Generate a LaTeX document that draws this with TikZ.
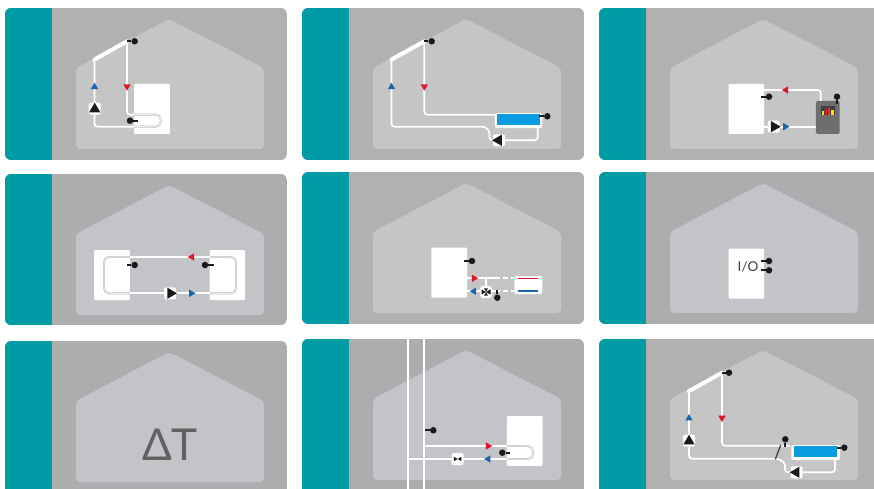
\documentclass[tikz,border=0pt]{standalone}
\usepackage{fontspec}
\setmainfont{Lato}
\usetikzlibrary{shapes.geometric}
\definecolor{Petrol}{RGB}{0,156,166}
\definecolor{GrisCalido}{RGB}{179,176,176}
\definecolor{GrisFrio}{RGB}{173,173,176}
\definecolor{CasaCalida}{RGB}{197,197,197}
\definecolor{CasaFria}{RGB}{194,196,200}
\definecolor{Rojo}{RGB}{222,24,44}
\definecolor{Azul}{RGB}{26,100,170}
\definecolor{Piscina}{RGB}{10,155,224}
\definecolor{Caldera}{RGB}{110,110,110}
\definecolor{Tinta}{RGB}{26,26,28}
\tikzset{
  collector/.style={draw=white, line width=4pt, line cap=round},
  pipe/.style={draw=white, line width=1.7pt, rounded corners=3pt},
  pipedash/.style={draw=white, line width=1.7pt, dash pattern=on 5pt off 3pt on 3pt off 9pt},
  coil/.style={draw=black!28, double=white, double distance=0.7pt, line width=0.6pt, rounded corners=5pt},
  tankbox/.style={fill=white, rounded corners=1pt, minimum width=35.6pt, minimum height=50pt, inner sep=0pt},
  poolbox/.style={fill=white, rounded corners=1.5pt, minimum width=#1, minimum height=15pt, inner sep=0pt},
  poolbox/.default=47.3pt,
  poolwater/.style={fill=Piscina, minimum width=#1, minimum height=11pt, inner sep=0pt},
  poolwater/.default=43pt,
  sensordot/.style={circle, fill=Tinta, minimum size=6.5pt, inner sep=0pt},
  sensorstem/.style={draw=Tinta, line width=1.9pt},
  pumpbox/.style={fill=white, rounded corners=2pt, minimum size=12pt, inner sep=0pt},
  pumptip/.style={regular polygon, regular polygon sides=3, fill=Tinta, minimum size=13pt,
    inner sep=0pt, shape border rotate=#1},
  flowtip/.style={regular polygon, regular polygon sides=3, fill=#1, minimum size=8.5pt, inner sep=0pt},
  valvetip/.style={regular polygon, regular polygon sides=3, fill=Tinta, minimum size=#1, inner sep=0pt},
  valvetip/.default=6pt,
}
\newcommand{\panelcasa}[6]{%
  \begin{scope}
    \path[clip, rounded corners=6pt] (#1,#2) rectangle ++(#3,#4);
    \fill[#5] (#1,#2) rectangle ++(#3,#4);
    \fill[Petrol] (#1,#2) rectangle ++(47,#4);
  \end{scope}
  \begin{scope}[shift={(#1,#2)}]
    \fill[#6, rounded corners=4pt] (71,60) -- (164,11) -- (259,60) -- (259,141) -- (71,141) -- cycle;
  \end{scope}}

\begin{document}
\begin{tikzpicture}[x=1pt, y=-1pt]
  \clip (0,0) rectangle (874,489);
  \panelcasa{5}{8}{282}{152}{GrisCalido}{CasaCalida}
  \panelcasa{302}{8}{282}{152}{GrisCalido}{CasaCalida}
  \panelcasa{599}{8}{290}{152}{GrisCalido}{CasaCalida}
  \panelcasa{5}{174}{282}{151}{GrisFrio}{CasaFria}
  \panelcasa{302}{172}{282}{152}{GrisCalido}{CasaCalida}
  \panelcasa{599}{172}{290}{152}{GrisFrio}{CasaFria}
  \panelcasa{5}{341}{282}{165}{GrisFrio}{CasaFria}
  \panelcasa{302}{339}{282}{165}{GrisFrio}{CasaFria}
  \panelcasa{599}{339}{290}{165}{GrisCalido}{CasaCalida}

  % ---- fila 1, solar con acumulador ----
  \node[tankbox] (t1) at (152,109) {};
  \coordinate (c1a) at (94.5,59.5);
  \coordinate (c1b) at (127,41.3);
  \coordinate (k1a) at (134,114.7);
  \coordinate (k1b) at (134,126.7);
  \draw[coil] (k1a) -- (160.7,114.7) -- (160.7,126.7) -- (k1b);
  \draw[pipe] (c1b) |- (k1a);
  \draw[pipe] (c1a) |- (k1b);
  \draw[collector] (c1a) -- (c1b);
  \node[sensordot] (s1a) at (134.7,41.3) {};
  \draw[sensorstem] (s1a) -- (c1b);
  \node[sensordot] (s1b) at (130,120.7) {};
  \coordinate (e1b) at (137.7,120.7);
  \draw[sensorstem] (s1b) -- (e1b);
  \node[flowtip=Azul] (f1a) at (94.5,87) {};
  \node[flowtip=Rojo, shape border rotate=180] (f1b) at (127,86.5) {};
  \node[pumpbox] (p1) at (94.7,108.7) {};
  \node[pumptip=0] (p1t) at (94.7,109.2) {};

  % ---- fila 1, solar con piscina ----
  \coordinate (c2a) at (391.5,59.5);
  \coordinate (c2b) at (424.3,41.3);
  \coordinate (k2a) at (495,114.7);
  \coordinate (k2b) at (537.7,128);
  \node[pumpbox] (p2) at (499,140.3) {};
  \draw[pipe] (c2b) |- (k2a);
  \draw[pipe] (c2a) |- (485,126.7) -- (489.5,131) -- (489.5,140.3) -- (p2);
  \draw[pipe] (p2) -| (k2b);
  \node[poolbox] (b2) at (518.6,120.7) {};
  \node[poolwater] (w2) at (518.8,119.8) {};
  \draw[collector] (c2a) -- (c2b);
  \node[sensordot] (s2a) at (431.7,41.3) {};
  \draw[sensorstem] (s2a) -- (c2b);
  \node[sensordot] (s2b) at (547.3,116.3) {};
  \coordinate (e2b) at (539.3,116.3);
  \draw[sensorstem] (s2b) -- (e2b);
  \node[flowtip=Azul] (f2a) at (391.5,87) {};
  \node[flowtip=Rojo, shape border rotate=180] (f2b) at (424.3,86.5) {};
  \node[pumptip=90] (p2t) at (498.5,140.3) {};

  % ---- fila 1, caldera ----
  \node[tankbox] (t3) at (746.3,109) {};
  \node[fill=Caldera, rounded corners=1.5pt, minimum width=23.7pt, minimum height=33pt, inner sep=0pt] (h3) at (827.8,117.5) {};
  \node[fill=black!75, minimum width=14.3pt, minimum height=9.3pt, inner sep=0pt] (l3) at (827.8,110.6) {};
  \fill[yellow!85!orange] (822,111) rectangle (824.2,115);
  \fill[Rojo] (825,109) rectangle (827.3,115);
  \fill[Rojo!70!orange] (828.1,107.6) rectangle (830.3,115);
  \fill[yellow!85!orange] (831,110) rectangle (833.6,115);
  \coordinate (k3a) at (820.7,101);
  \coordinate (k3b) at (764,90);
  \coordinate (k3c) at (764,126.7);
  \coordinate (k3d) at (816,126.7);
  \draw[pipe] (k3a) |- (k3b);
  \draw[pipe] (k3c) -- (k3d);
  \node[sensordot] (s3a) at (769,96.7) {};
  \coordinate (e3a) at (760.7,96.7);
  \draw[sensorstem] (s3a) -- (e3a);
  \node[sensordot] (s3b) at (837,96.7) {};
  \coordinate (e3b) at (837,104);
  \draw[sensorstem] (s3b) -- (e3b);
  \node[flowtip=Rojo, shape border rotate=90] (f3a) at (786,90) {};
  \node[flowtip=Azul, shape border rotate=-90] (f3b) at (785.3,126.7) {};
  \node[pumpbox] (p3) at (773.7,126.7) {};
  \node[pumptip=-90] (p3t) at (774.2,126.7) {};

  % ---- fila 2, dos acumuladores ----
  \node[tankbox] (t4) at (112,275) {};
  \node[tankbox] (u4) at (227.3,275) {};
  \coordinate (k4a) at (130,257);
  \coordinate (k4b) at (130,293.3);
  \coordinate (k4c) at (209.5,257);
  \coordinate (k4d) at (209.5,293.3);
  \draw[coil] (k4a) -- (104,257) -- (104,293.3) -- (k4b);
  \draw[coil] (k4c) -- (236,257) -- (236,293.3) -- (k4d);
  \draw[pipe] (k4a) -- (k4c);
  \draw[pipe] (k4b) -- (k4d);
  \node[sensordot] (s4a) at (134.7,265) {};
  \coordinate (e4a) at (126.7,265);
  \draw[sensorstem] (s4a) -- (e4a);
  \node[sensordot] (s4b) at (205,265) {};
  \coordinate (e4b) at (213.7,265);
  \draw[sensorstem] (s4b) -- (e4b);
  \node[flowtip=Rojo, shape border rotate=90] (f4a) at (192,257) {};
  \node[flowtip=Azul, shape border rotate=-90] (f4b) at (191.3,293.3) {};
  \node[pumpbox] (p4) at (170,293.3) {};
  \node[pumptip=-90] (p4t) at (170.5,293.3) {};

  % ---- fila 2, radiador con mezcladora ----
  \node[tankbox] (t5) at (449.2,272.7) {};
  \node[fill=white, rounded corners=1.5pt, minimum width=28pt, minimum height=18pt, inner sep=0pt] (r5) at (528.3,285) {};
  \coordinate (r5a) at (518.3,278.3);
  \coordinate (r5b) at (538.3,278.3);
  \coordinate (r5c) at (518.3,291);
  \coordinate (r5d) at (538.3,291);
  \draw[draw=Rojo, line width=1.4pt] (r5a) -- (r5b);
  \draw[draw=Azul, line width=1.4pt] (r5c) -- (r5d);
  \coordinate (k5a) at (467,278.3);
  \coordinate (k5b) at (500,278.3);
  \coordinate (k5c) at (503,278.3);
  \coordinate (k5d) at (514,278.3);
  \coordinate (k5e) at (467,291.3);
  \coordinate (k5f) at (500,291.3);
  \coordinate (k5g) at (503,291.3);
  \coordinate (k5h) at (514,291.3);
  \coordinate (k5j) at (486,278.3);
  \draw[pipe] (k5a) -- (k5b);
  \draw[pipedash] (k5c) -- (k5d);
  \draw[pipe] (k5e) -- (k5f);
  \draw[pipedash] (k5g) -- (k5h);
  \node[pumpbox, rounded corners=3pt] (v5) at (486,292) {};
  \draw[pipe] (k5j) -- (v5);
  \node[valvetip, shape border rotate=-90] (v5a) at (483,292) {};
  \node[valvetip, shape border rotate=90] (v5b) at (489,292) {};
  \node[valvetip=4.5pt, shape border rotate=180] (v5c) at (486,289.5) {};
  \node[valvetip=4.5pt] (v5d) at (486,294.5) {};
  \node[sensordot] (s5a) at (472,261) {};
  \coordinate (e5a) at (464,261);
  \draw[sensorstem] (s5a) -- (e5a);
  \node[sensordot] (s5b) at (497.3,297.7) {};
  \coordinate (e5b) at (497.3,290);
  \draw[sensorstem] (s5b) -- (e5b);
  \node[flowtip=Rojo, shape border rotate=-90] (f5a) at (474,278.3) {};
  \node[flowtip=Azul, shape border rotate=90] (f5b) at (474,291.3) {};

  % ---- fila 2, entradas y salidas ----
  \node[tankbox] (t6) at (746.3,273.7) {};
  \node[font=\fontsize{13.5}{14}\selectfont, text=black!75] (io6) at (748,267) {I/O};
  \node[sensordot] (s6a) at (769,261) {};
  \coordinate (e6a) at (760.7,261);
  \draw[sensorstem] (s6a) -- (e6a);
  \node[sensordot] (s6b) at (769,270.3) {};
  \coordinate (e6b) at (760.7,270.3);
  \draw[sensorstem] (s6b) -- (e6b);

  % ---- fila 3, diferencia de temperatura ----
  \node[font=\fontsize{44}{44}\selectfont, text=black!62] (dt7) at (170,445) {ΔT};

  % ---- fila 3, red con intercambio ----
  \coordinate (l8a) at (408.3,339);
  \coordinate (l8b) at (408.3,489);
  \coordinate (l8c) at (424.3,339);
  \coordinate (l8d) at (424.3,489);
  \draw[pipe] (l8a) -- (l8b);
  \draw[pipe] (l8c) -- (l8d);
  \node[tankbox] (t8) at (524.7,441) {};
  \coordinate (k8a) at (507,446);
  \coordinate (k8b) at (507,459);
  \coordinate (k8c) at (424.3,446);
  \coordinate (k8d) at (408.3,459);
  \draw[coil] (k8a) -- (533,446) -- (533,459) -- (k8b);
  \draw[pipe] (k8c) -- (k8a);
  \draw[pipe] (k8d) -- (k8b);
  \node[sensordot] (s8a) at (433.3,430.3) {};
  \coordinate (e8a) at (425,430.3);
  \draw[sensorstem] (s8a) -- (e8a);
  \node[sensordot] (s8b) at (502.3,452.7) {};
  \coordinate (e8b) at (510.3,452.7);
  \draw[sensorstem] (s8b) -- (e8b);
  \node[flowtip=Rojo, shape border rotate=-90] (f8a) at (488,446) {};
  \node[flowtip=Azul, shape border rotate=90] (f8b) at (488.3,459) {};
  \node[pumpbox] (v8) at (457.7,459) {};
  \node[valvetip=5pt, shape border rotate=-90] (v8a) at (455.2,459) {};
  \node[valvetip=5pt, shape border rotate=90] (v8b) at (460.2,459) {};

  % ---- fila 3, solar con piscina y desviadora ----
  \coordinate (c9a) at (689,391);
  \coordinate (c9b) at (722,372.7);
  \coordinate (k9a) at (790,445.7);
  \coordinate (k9b) at (835,460);
  \coordinate (d9a) at (775.3,459.3);
  \coordinate (d9b) at (780.7,445);
  \node[pumpbox] (p9) at (796.7,472.3) {};
  \draw[pipe] (c9b) |- (k9a);
  \draw[pipe] (c9a) |- (778.5,458.7) -- (785,463) -- (785,472.3) -- (p9);
  \draw[pipe] (p9) -| (k9b);
  \draw[draw=black!75, line width=1.3pt] (d9a) -- (d9b);
  \node[poolbox=48.7pt] (b9) at (815.7,452.5) {};
  \node[poolwater=43.3pt] (w9) at (815.7,451.7) {};
  \draw[collector] (c9a) -- (c9b);
  \node[sensordot] (s9a) at (729,372.7) {};
  \draw[sensorstem] (s9a) -- (c9b);
  \node[sensordot] (s9b) at (844.3,447.7) {};
  \coordinate (e9b) at (836.7,447.7);
  \draw[sensorstem] (s9b) -- (e9b);
  \node[sensordot] (s9c) at (785.3,439.3) {};
  \coordinate (e9c) at (785.3,446.7);
  \draw[sensorstem] (s9c) -- (e9c);
  \node[flowtip=Azul] (f9a) at (689,418.3) {};
  \node[flowtip=Rojo, shape border rotate=180] (f9b) at (722,417.8) {};
  \node[pumpbox] (q9) at (689,440.7) {};
  \node[pumptip=0] (q9t) at (689,441.2) {};
  \node[pumptip=90] (p9t) at (796.2,472.3) {};
\end{tikzpicture}
\end{document}
